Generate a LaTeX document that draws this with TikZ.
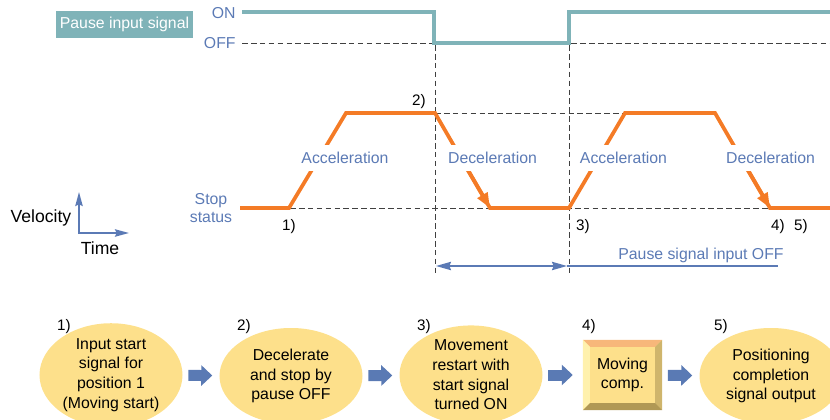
\documentclass[tikz,border=0pt]{standalone}
\usepackage{fontspec}
\setmainfont{Liberation Sans}
\usepackage{tikz}
\usetikzlibrary{arrows.meta,positioning,calc,shapes.geometric}

\definecolor{sigteal}{HTML}{7FB3B8}
\definecolor{velorange}{HTML}{F47B26}
\definecolor{txtblue}{HTML}{5B7AB5}
\definecolor{bubblefill}{HTML}{FDE08B}
\definecolor{flowblue}{HTML}{5A7AB4}
\definecolor{beveltop}{HTML}{F7B77A}
\definecolor{bevelleft}{HTML}{FFF1AD}
\definecolor{bevelright}{HTML}{CFB56C}
\definecolor{bevelbottom}{HTML}{B09855}

\begin{document}
\begin{tikzpicture}[
        x=0.03cm, y=-0.03cm,
        sig/.style={sigteal,line width=3.4pt},
        vel/.style={velorange,line width=3.2pt},
        guide/.style={black!75,line width=0.8pt,dash pattern=on 4.8pt off 2.8pt},
        note/.style={txtblue,font=\fontsize{13.5}{16}\selectfont,align=center,inner sep=1pt},
        cover/.style={note,fill=white,inner xsep=1pt,inner ysep=6pt},
        num/.style={font=\fontsize{13}{15}\selectfont,inner sep=0pt},
        bubble/.style={ellipse,fill=bubblefill,minimum width=4.29cm,minimum height=2.88cm,inner sep=0pt,align=center,font=\fontsize{13.5}{16.8}\selectfont},
        flow/.style={-{Triangle[width=0.6cm,length=0.33cm]},line width=0.33cm,flowblue,shorten <=0.17cm,shorten >=0.21cm},
        axis/.style={txtblue,line width=1.6pt,-{Stealth[length=0.42cm,width=0.22cm,inset=0.05cm]}},
    ]
    \clip (0,0) rectangle (830,420);

    % === Pause input signal ===
    \node[fill=sigteal,text=white,minimum width=4.11cm,minimum height=0.81cm,inner sep=0pt,font=\fontsize{13.5}{16}\selectfont] (pause) at (124.5,24.5) {Pause input signal};
    \node[note,anchor=east] (on) at (237,13) {ON};
    \node[note,anchor=east] (off) at (237,43) {OFF};
    \draw[guide] (242,43) -- (830,43);
    \draw[sig] (242,12) -- (434,12) -- (434,43) -- (569,43) -- (569,12) -- (840,12);

    % guide lines
    \draw[guide] (435,45) -- (435,276);
    \draw[guide] (569,45) -- (569,276);
    \draw[guide] (435,113) -- (625,113);
    \draw[guide] (290,208) -- (830,208);

    % === Velocity profile ===
    \draw[vel] (240,208) -- (289,208) -- (346,113) -- (435,113) -- (490,208) -- (569,208) -- (625,113) -- (715,113) -- (770,208) -- (840,208);
    \draw[vel,-{Triangle[length=0.45cm,width=0.33cm]}] (463,162) -- (490,208);
    \draw[vel,-{Triangle[length=0.45cm,width=0.33cm]}] (743,162) -- (770,208);

    \node[cover] (acc1) at (345,158) {Acceleration};
    \node[cover] (dec1) at (492.5,158) {Deceleration};
    \node[cover] (acc2) at (623.5,158) {Acceleration};
    \node[cover] (dec2) at (770.5,158) {Deceleration};
    \node[note] (stop) at (211,208) {Stop\\status};

    \node[num] (n1) at (289,227) {1)};
    \node[num] (n2) at (419,102) {2)};
    \node[num] (n3) at (583,227) {3)};
    \node[num] (n4) at (778,227) {4)};
    \node[num] (n5) at (801,227) {5)};

    % pause period
    \draw[txtblue,line width=1.6pt,{Stealth[length=0.45cm,width=0.25cm,inset=0.05cm]}-{Stealth[length=0.45cm,width=0.25cm,inset=0.05cm]}] (436,266) -- (567,266);
    \draw[txtblue,line width=1.6pt] (567,266) -- (778,266);
    \node[note] (poff) at (701,255) {Pause signal input OFF};

    % axes legend
    \draw[axis] (79,234) -- (79,192);
    \draw[axis] (78.5,233) -- (129,233);
    \node[font=\fontsize{15}{17}\selectfont,inner sep=0pt] (vlab) at (41,218) {Velocity};
    \node[font=\fontsize{15}{17}\selectfont,inner sep=0pt] (tlab) at (100,248) {Time};

    % === Sequence ===
    \node[bubble] (s1) at (111,375) {Input start\\signal for\\position 1\\(Moving start)};
    \node[bubble] (s2) at (291,376) {Decelerate\\and stop by\\pause OFF};
    \node[bubble] (s3) at (471,375) {Movement\\restart with\\start signal\\turned ON};
    \node[rectangle,fill=bubblefill,minimum width=2.37cm,minimum height=2.1cm,inner sep=0pt,align=center,font=\fontsize{13.5}{16.8}\selectfont] (s4) at (622.5,375) {Moving\\comp.};
    \fill[beveltop] (s4.north west) -- (s4.north east) -- ($(s4.north east)+(-7,7)$) -- ($(s4.north west)+(7,7)$) -- cycle;
    \fill[bevelleft] (s4.north west) -- ($(s4.north west)+(7,7)$) -- ($(s4.south west)+(7,-7)$) -- (s4.south west) -- cycle;
    \fill[bevelright] (s4.north east) -- (s4.south east) -- ($(s4.south east)+(-7,-7)$) -- ($(s4.north east)+(-7,7)$) -- cycle;
    \fill[bevelbottom] (s4.south west) -- (s4.south east) -- ($(s4.south east)+(-7,-7)$) -- ($(s4.south west)+(7,-7)$) -- cycle;
    \node[bubble] (s5) at (771,376) {Positioning\\completion\\signal output};

    \node[num] (m1) at (64,327) {1)};
    \node[num] (m2) at (244,327) {2)};
    \node[num] (m3) at (424,327) {3)};
    \node[num] (m4) at (589,327) {4)};
    \node[num] (m5) at (721,327) {5)};

    \draw[flow] (s1) -- (s2);
    \draw[flow] (s2) -- (s3);
    \draw[flow,shorten >=0.3cm] (s3) -- (s4);
    \draw[flow] (s4) -- (s5);
\end{tikzpicture}
\end{document}
